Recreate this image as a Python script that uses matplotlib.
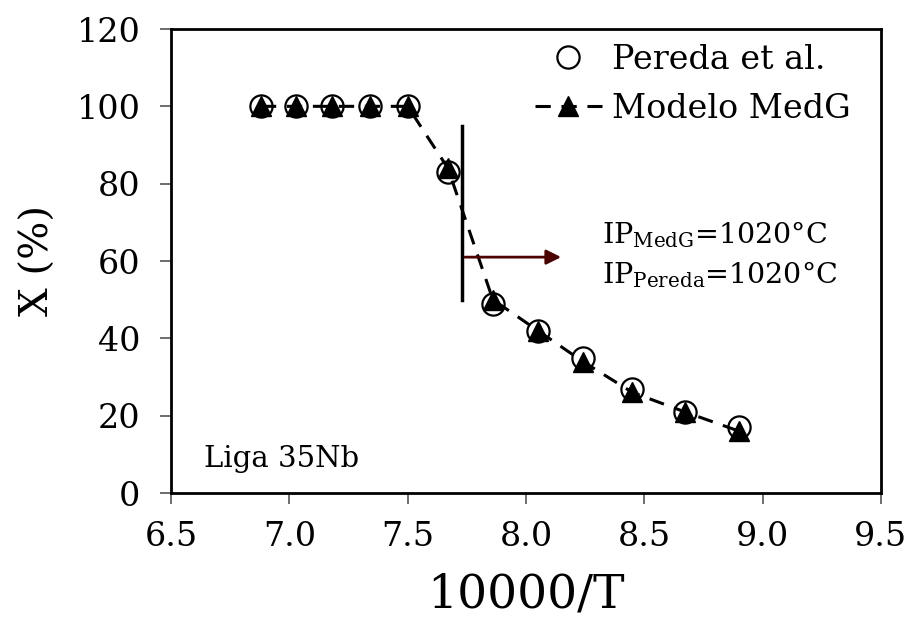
import numpy as np
import matplotlib.pyplot as plt

plt.rcParams['font.family'] = ['DejaVu Serif']
plt.rcParams['mathtext.fontset'] = 'dejavuserif'

# data: 10000/T and transformed fraction X (%)
inv_T = [6.88, 7.03, 7.18, 7.34, 7.50, 7.67, 7.86, 8.05, 8.24, 8.45, 8.67, 8.90]
x_pereda = [100, 100, 100, 100, 100, 83, 49, 42, 35, 27, 21, 17]
x_medg = [100, 100, 100, 100, 100, 84, 50, 42, 34, 26, 21, 16]

ip_x = 7.73
ip_lo, ip_hi = 50, 95
arrow_y = 61
arrow_end = 8.16

fig = plt.figure(figsize=(9.14, 6.22), dpi=100)
ax = fig.add_axes([171/914, 1-493/622, (881-171)/914, (493-29)/622])

ax.plot(inv_T, x_pereda, 'o', mfc='white', mec='black', mew=1.6, ms=16,
        label='Pereda et al.')
ax.plot(inv_T, x_medg, '--^', color='black', lw=2.2, ms=14,
        dashes=(5, 3.5), label='Modelo MedG')

# inflection point marker
ax.plot([ip_x, ip_x], [ip_lo, ip_hi], color='black', lw=2.5)
ax.annotate('', xy=(arrow_end, arrow_y), xytext=(ip_x, arrow_y),
            arrowprops=dict(arrowstyle='-|>', color='#4d0000', lw=2,
                            mutation_scale=22))

ax.text(8.32, 64.5, r'IP$_{\mathregular{MedG}}$=1020°C', fontsize=20.5)
ax.text(8.32, 54.2, r'IP$_{\mathregular{Pereda}}$=1020°C', fontsize=20.5)
ax.text(6.64, 6.7, 'Liga 35Nb', fontsize=21)

ax.set_xlim(6.5, 9.5)
ax.set_ylim(0, 120)
ax.set_xticks(np.arange(6.5, 9.51, 0.5))
ax.set_xticklabels(['6.5', '7.0', '7.5', '8.0', '8.5', '9.0', '9.5'])
ax.set_yticks(np.arange(0, 121, 20))
ax.tick_params(labelsize=24, length=8, width=1.2, color='#555555')
ax.tick_params(axis='x', pad=12)
ax.tick_params(axis='y', pad=14)
for s in ax.spines.values():
    s.set_linewidth(2)

ax.set_xlabel('10000/T', fontsize=34, labelpad=14)
ax.set_ylabel('X (%)', fontsize=29, labelpad=14)

ax.legend(loc='upper left', bbox_to_anchor=(535/914, 1-44/622),
          bbox_transform=fig.transFigure, frameon=False, fontsize=24,
          handlelength=2.0, handletextpad=0.3, borderpad=0,
          borderaxespad=0, labelspacing=0.5)

plt.savefig('out.png', dpi=100)
